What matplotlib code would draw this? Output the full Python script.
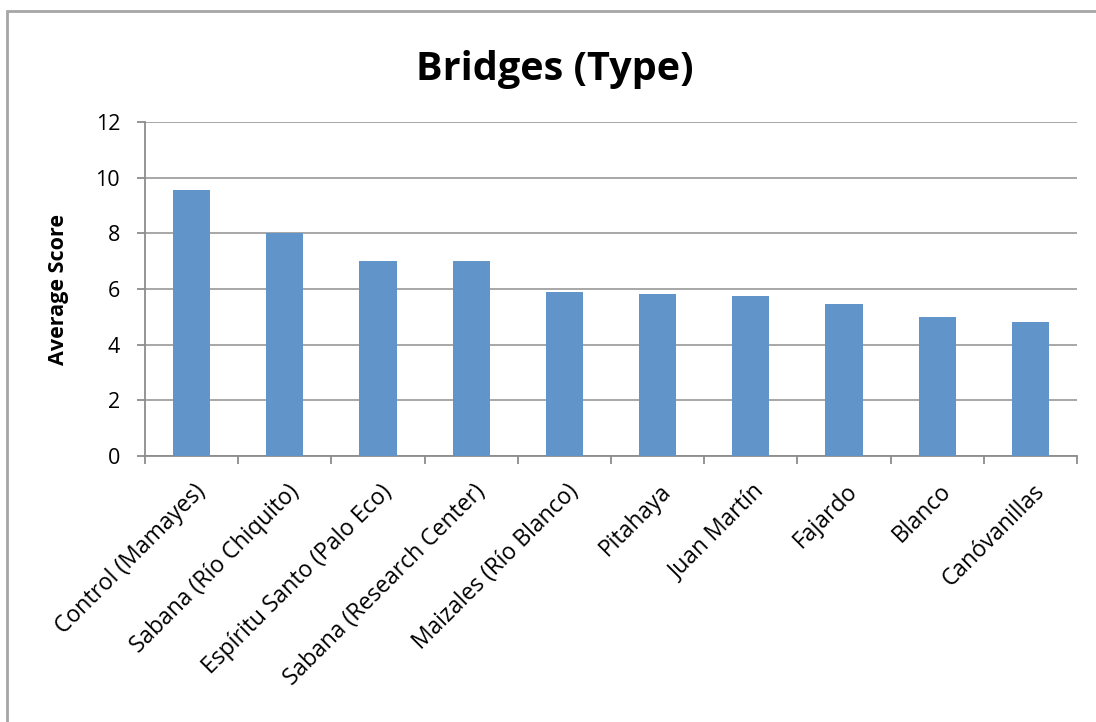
import numpy as np
from matplotlib import pyplot as plt
import matplotlib
from matplotlib.patches import Rectangle
matplotlib.rcParams['font.family'] = ['Open Sans', 'DejaVu Sans']

# 数据
sites = ["Control (Mamayes)", "Sabana (Río Chiquito)", "Espíritu Santo (Palo Eco)",
         "Sabana (Research Center)", "Maizales (Río Blanco)", "Pitahaya",
         "Juan Martín", "Fajardo", "Blanco", "Canóvanillas"]
scores = [9.56, 8.0, 7.0, 7.0, 5.9, 5.83, 5.76, 5.47, 5.0, 4.82]
yticks = [0, 2, 4, 6, 8, 10, 12]

W, H = 1096, 722
fig = plt.figure(figsize=(W/100, H/100), dpi=100)
# 外框
fig.patches.append(Rectangle((7/W, -0.01), 1.1, 1.0 - 11/H + 0.01,
                             transform=fig.transFigure, fill=False,
                             edgecolor='#a6a6a6', linewidth=2))

ax = fig.add_axes([145/W, 1 - 456/H, (1077-145)/W, (456-122)/H])
x = np.arange(len(sites))
ax.bar(x, scores, width=0.4, color='#6195c9', zorder=3)

ax.set_xlim(-0.5, len(sites) - 0.5)
ax.set_ylim(0, 12)
ax.set_yticks(yticks)
ax.tick_params(axis='y', labelsize=15.5, length=6, color='#8c8c8c', width=1.3, pad=12)
ax.yaxis.grid(True, color='#a0a0a0', linewidth=1.3, zorder=0)

# x 轴刻度在分类边界
ax.set_xticks(np.arange(len(sites) + 1) - 0.5)
ax.set_xticklabels([])
ax.tick_params(axis='x', length=6, color='#8c8c8c', width=1.3)
for i, s in enumerate(sites):
    ax.text(i + 0.02, -0.85, s, rotation=45, ha='right', va='top',
            rotation_mode='anchor', fontsize=16.5)

for side in ['top', 'right']:
    ax.spines[side].set_visible(False)
for side in ['left', 'bottom']:
    ax.spines[side].set_color('#8c8c8c')
    ax.spines[side].set_linewidth(1.3)

fig.text(59/W, 1 - 290/H, "Average Score", fontsize=15.5, fontweight='bold',
         rotation=90, ha='center', va='center')
fig.text(555/W, 1 - 80/H, "Bridges (Type)", fontsize=28.5, fontweight='bold',
         ha='center', va='baseline')

plt.savefig("out.png", dpi=100)
